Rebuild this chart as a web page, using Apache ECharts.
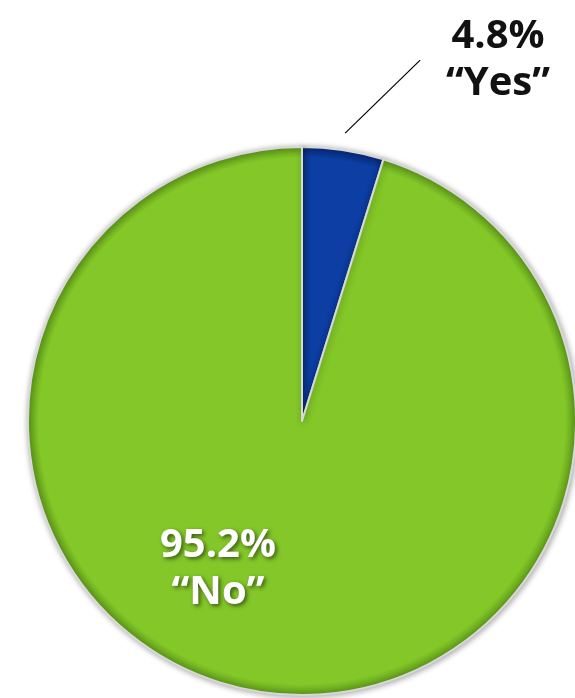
<!DOCTYPE html>
<html>
<head>
<meta charset="utf-8">
<script src="https://cdn.jsdelivr.net/npm/echarts@6/dist/echarts.min.js"></script>
<style>
  html, body { margin: 0; padding: 0; background: #fff; }
  #chart { width: 575px; height: 698px; }
</style>
</head>
<body>
<div id="chart"></div>
<script>
// Survey answers and their shares (%)
const answers = ['Yes', 'No'];
const shares = [4.8, 95.2];
const sliceColors = ['#0c3ea3', '#83c728'];
const edgeColors = ['#062a78', '#609c1a'];
const labelColors = ['#111111', '#ffffff'];

const CENTER = [302, 421];
const RADIUS = 274;

const chart = echarts.init(document.getElementById('chart'));

// Slight darkening near the rim, measured from the pie centre
function fillFor(base, edge) {
  return {
    type: 'radial', x: CENTER[0], y: CENTER[1], r: RADIUS, global: true,
    colorStops: [
      { offset: 0, color: base },
      { offset: 0.96, color: base },
      { offset: 1, color: edge }
    ]
  };
}

const data = answers.map((name, i) => ({
  name: name,
  value: shares[i],
  itemStyle: { color: fillFor(sliceColors[i], edgeColors[i]) },
  label: {
    color: labelColors[i],
    position: i === 0 ? 'outside' : 'inside',
    textShadowColor: i === 0 ? 'transparent' : 'rgba(0,0,0,0.55)',
    textShadowBlur: i === 0 ? 0 : 4,
    textShadowOffsetX: i === 0 ? 0 : 2,
    textShadowOffsetY: i === 0 ? 0 : 2
  },
  labelLine: { show: i === 0 }
}));

chart.setOption({
  animation: false,
  series: [{
    type: 'pie',
    center: CENTER,
    radius: RADIUS,
    startAngle: 90,
    clockwise: true,
    data: data,
    itemStyle: {
      borderColor: '#d8d8d8',
      borderWidth: 2,
      shadowColor: 'rgba(0,0,0,0.35)',
      shadowBlur: 6,
      shadowOffsetX: 1,
      shadowOffsetY: 1
    },
    label: {
      formatter: p => p.value.toFixed(1) + '%\n\u201C' + p.name + '\u201D',
      fontFamily: 'Open Sans',
      fontWeight: 'bold',
      fontSize: 40,
      lineHeight: 47,
      align: 'center'
    },
    labelLine: {
      lineStyle: { color: '#000', width: 1.2 },
      length: 20,
      length2: 0,
      smooth: false
    },
    labelLayout: function (params) {
      if (params.dataIndex === 0) {
        const p0 = params.labelLinePoints[0];
        const start = [p0[0] + 2, p0[1] - 17];
        const end = [start[0] + 75, start[1] - 73];
        return {
          x: 498, y: 60,
          align: 'center', verticalAlign: 'middle',
          labelLinePoints: [start, end]
        };
      }
      return {
        x: 218, y: 569,
        align: 'center', verticalAlign: 'middle'
      };
    }
  }]
});
</script>
</body>
</html>
